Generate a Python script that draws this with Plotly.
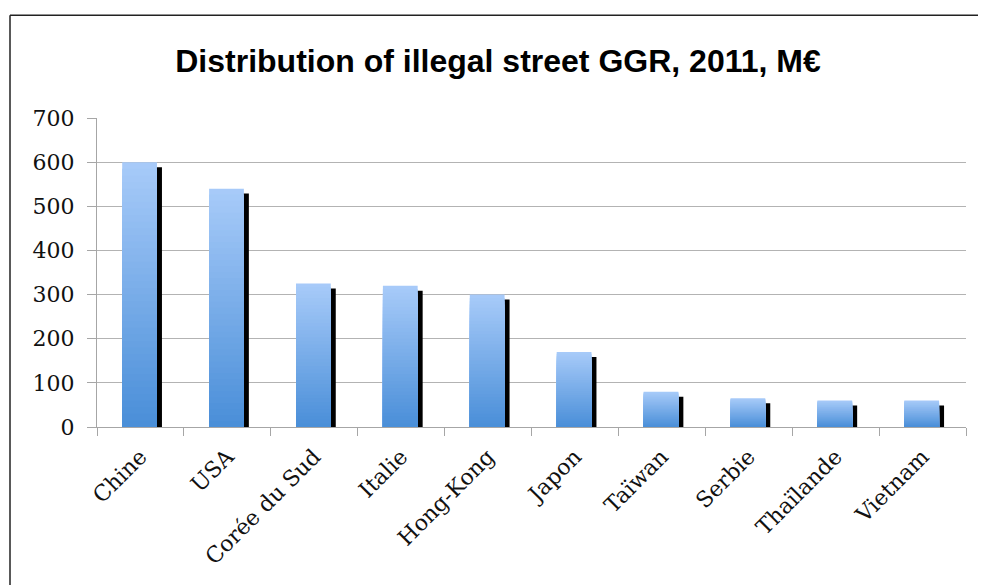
import plotly.graph_objects as go

# ---- data ----
categories = ["Chine", "USA", "Corée du Sud", "Italie", "Hong-Kong",
              "Japon", "Taïwan", "Serbie", "Thaïlande", "Vietnam"]
values = [600, 540, 325, 320, 300, 170, 80, 65, 60, 60]
y_ticks = [0, 100, 200, 300, 400, 500, 600, 700]
title_text = "Distribution of illegal street GGR, 2011, M€"

# ---- layout geometry (pixels, page offset of 8px body margin) ----
OFF = 8
W, H = 986 - OFF, 585 - OFF
L = 97 - OFF
T = 118 - OFF
R = W - (966 - OFF)
B = H - (427.5 - OFF)
plot_w = W - L - R
plot_h = H - T - B
YMAX = 700
cat_px = plot_w / len(categories)

SHADOW_PX = 5
shadow_drop = SHADOW_PX * YMAX / plot_h
bar_width = 0.4
bar_offset = -0.21
shadow_offset = bar_offset + SHADOW_PX / cat_px

top_rgb = (168, 203, 249)
bot_rgb = (73, 142, 216)
N = 40

fig = go.Figure()

# shadow
fig.add_trace(go.Bar(
    x=categories, y=[v - shadow_drop for v in values],
    width=bar_width, offset=shadow_offset,
    marker=dict(color="#000000", line=dict(width=0)),
    hoverinfo="skip", showlegend=False, opacity=1))

# gradient bars: tallest (lightest) first, then shorter darker ones on top
for k in range(N):
    frac = (N - k) / N
    t = (N - k - 0.5) / N
    c = tuple(round(b + (tp - b) * t) for tp, b in zip(top_rgb, bot_rgb))
    fig.add_trace(go.Bar(
        x=categories, y=[v * frac for v in values],
        width=bar_width, offset=bar_offset,
        marker=dict(color="rgb(%d,%d,%d)" % c, line=dict(width=0)),
        hoverinfo="skip" if k else "x+y", showlegend=False, opacity=1))

# frame (left and top border)
fx = ((10 - OFF) - L) / plot_w
fy = 1 + (T - (15 - OFF)) / plot_h
fig.add_shape(type="line", xref="paper", yref="paper",
              x0=fx, x1=fx, y0=-1, y1=fy, line=dict(color="#222222", width=1.5))
fig.add_shape(type="line", xref="paper", yref="paper",
              x0=fx, x1=1.1, y0=fy, y1=fy, line=dict(color="#222222", width=1.5))

tick_font = dict(family="DejaVu Serif", size=22, color="#111111")

fig.update_layout(
    width=W, height=H,
    margin=dict(l=L, r=R, t=T, b=B, pad=0),
    paper_bgcolor="white", plot_bgcolor="white",
    barmode="overlay",
    title=dict(text="<b>" + title_text + "</b>", x=(498 - OFF) / W, xanchor="center",
               xref="container", yref="container", y=1 - (61 - OFF) / H, yanchor="middle",
               font=dict(family="Liberation Sans", size=32, color="#000000")),
    xaxis=dict(type="category", showline=True, linecolor="#a6a6a6", linewidth=1,
               ticks="outside", tickson="boundaries", ticklen=8, tickcolor="#a6a6a6",
               tickangle=-45, tickfont=tick_font, showgrid=False, ticklabelstandoff=7,
               range=[-0.5, len(categories) - 0.5]),
    yaxis=dict(range=[0, YMAX], tickvals=y_ticks, showline=True, linecolor="#a6a6a6",
               linewidth=1, ticks="outside", ticklen=9, tickcolor="#a6a6a6",
               gridcolor="#b3b3b3", gridwidth=1, zeroline=False,
               tickfont=tick_font, ticklabelstandoff=8),
)

fig.write_html("out.html")
